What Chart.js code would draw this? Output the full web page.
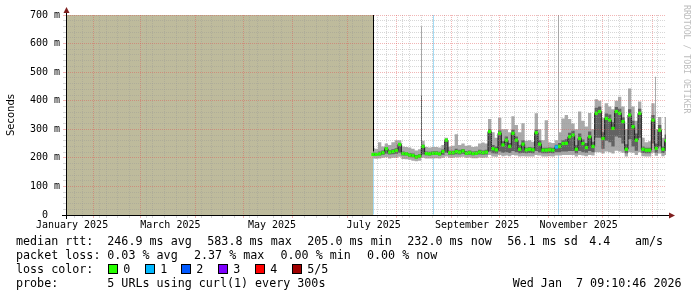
<!DOCTYPE html>
<html>
<head>
<meta charset="utf-8">
<script src="https://cdn.jsdelivr.net/npm/chart.js@4.4.1/dist/chart.umd.min.js"></script>
<style>
  html, body { margin: 0; padding: 0; background: #fff; }
  canvas { display: block; }
</style>
</head>
<body>
<canvas id="smokeGraph" width="697" height="297"></canvas>
<script>
// x values are days counted from 1 Jan 2025
const START_DAY = 11.38;   // 360 days back
const END_DAY = 371.38;    // Wed Jan 7 09:10:46 2026

const xTickLabels = ['January 2025', 'March 2025', 'May 2025', 'July 2025', 'September 2025', 'November 2025'];
const xLabelDays = [15, 74, 135, 196, 258, 319];
const monthStartDays = [31, 59, 90, 120, 151, 181, 212, 243, 273, 304, 334, 365];
const yTickLabels = ['0  ', '100 m', '200 m', '300 m', '400 m', '500 m', '600 m', '700 m'];

// no data before the probe was added
const noDataEnd = 195.58;

// one sample every 2 days starting here
const FIRST_DAY = 195.58;
const STEP = 2;

const median = [212, 212, 214, 218, 232, 220, 222, 226, 247, 215, 214, 210, 208, 203, 206, 240, 215, 214, 216, 216,
  214, 222, 262, 218, 218, 222, 220, 224, 216, 218, 215, 216, 220, 218, 220, 292, 232, 228, 286, 245,
  262, 240, 286, 262, 230, 248, 228, 230, 228, 288, 248, 227, 227, 228, 227, 238, 240, 250, 251, 274,
  280, 230, 268, 250, 236, 274, 240, 356, 362, 268, 338, 332, 303, 362, 356, 327, 230, 350, 309, 262,
  356, 230, 227, 227, 332, 233, 297, 230, 260];
const darkLow = [207, 207, 208, 211, 214, 212, 213, 214, 218, 208, 208, 204, 202, 198, 200, 212, 209, 208, 210, 210,
  208, 211, 218, 211, 211, 213, 212, 214, 210, 211, 209, 210, 212, 211, 212, 222, 216, 215, 222, 218,
  220, 217, 224, 220, 216, 217, 216, 217, 216, 224, 219, 216, 216, 217, 216, 220, 220, 222, 222, 224,
  224, 216, 224, 220, 218, 224, 220, 270, 270, 232, 260, 255, 240, 275, 270, 250, 216, 265, 240, 225,
  270, 217, 216, 216, 250, 218, 240, 217, 224];
const darkHigh = [219, 218, 222, 226, 238, 227, 230, 234, 252, 222, 220, 217, 215, 210, 213, 246, 222, 221, 223, 223,
  221, 229, 265, 225, 225, 232, 228, 231, 224, 226, 222, 223, 228, 226, 228, 300, 245, 240, 296, 258,
  275, 252, 298, 275, 244, 262, 236, 238, 236, 298, 262, 235, 235, 236, 235, 246, 252, 262, 265, 288,
  295, 244, 285, 264, 252, 292, 256, 375, 380, 290, 355, 352, 325, 378, 372, 342, 248, 370, 330, 285,
  372, 240, 235, 235, 350, 250, 315, 240, 282];
const smokeLow = [198, 197, 198, 200, 202, 198, 200, 200, 204, 196, 195, 193, 190, 188, 190, 200, 198, 198, 198, 199,
  198, 200, 205, 200, 200, 202, 202, 204, 200, 201, 199, 199, 201, 200, 201, 210, 205, 204, 210, 206,
  208, 206, 210, 208, 205, 206, 205, 205, 205, 210, 208, 205, 205, 206, 205, 208, 208, 210, 210, 210,
  210, 205, 210, 208, 206, 210, 208, 220, 220, 215, 222, 220, 215, 225, 222, 218, 205, 220, 218, 210,
  220, 206, 205, 205, 218, 207, 215, 206, 210];
const smokeHigh = [235, 232, 255, 240, 250, 245, 255, 262, 262, 240, 238, 236, 232, 226, 230, 260, 238, 236, 238, 238,
  236, 245, 270, 240, 242, 283, 245, 250, 242, 244, 238, 240, 250, 254, 250, 336, 290, 270, 340, 300,
  300, 290, 346, 315, 290, 321, 260, 262, 256, 356, 300, 262, 332, 255, 252, 262, 290, 338, 350, 336,
  320, 300, 362, 330, 310, 357, 300, 405, 400, 340, 391, 380, 370, 400, 414, 380, 300, 443, 380, 330,
  397, 270, 255, 258, 391, 300, 343, 270, 343];
// lost pings (of 5) for each median sample
const medianLoss = [0, 0, 0, 0, 0, 0, 0, 0, 0, 0, 0, 0, 0, 0, 0, 0, 0, 0, 0, 0,
  0, 0, 0, 0, 0, 0, 0, 0, 0, 0, 0, 0, 0, 0, 0, 0, 0, 0, 0, 0,
  0, 0, 0, 0, 0, 0, 0, 0, 0, 0, 0, 0, 0, 0, 0, 1, 0, 0, 0, 0,
  0, 0, 0, 0, 0, 0, 0, 0, 0, 0, 0, 0, 0, 0, 0, 0, 0, 0, 0, 0,
  0, 0, 0, 0, 0, 0, 0, 0, 0];

// single-column outliers of the smoke
const lightSpikeDays = [224.68, 306.88, 365.08];
const lightSpikeLow = [250, 255, 300];
const lightSpikeHigh = [661, 700, 484];
const darkSpikeDays = [195.88, 224.68];
const darkSpikeLow = [222, 242];
const darkSpikeHigh = [700, 417];

// columns with packet loss
const lossDays = [195.88, 231.88, 306.88];
const lossCount = [1, 1, 1];

const lossColors = ['#26ff00', '#00b8ff', '#0059ff', '#7e00ff', '#ff0000', '#a00000'];
const lossLabels = ['0', '1', '2', '3', '4', '5/5'];

const legendRows = [
  ['median rtt:', '246.9 ms avg', '583.8 ms max', '205.0 ms min', '232.0 ms now', '56.1 ms sd', '4.4', 'am/s'],
  ['packet loss:', '0.03 % avg', '2.37 % max', '0.00 % min', '0.00 % now'],
  ['loss color:'],
  ['probe:', '5 URLs using curl(1) every 300s']
];
const stampText = 'Wed Jan  7 09:10:46 2026';

const GRID_MINOR = 'rgba(150,150,150,0.38)';
const GRID_MAJOR = 'rgba(225,80,80,0.42)';
const MONO = '"DejaVu Sans Mono", monospace';

const dayOf = (i) => FIRST_DAY + i * STEP;
const series = (arr) => arr.map((v, i) => ({ x: dayOf(i), y: v }));
const spikes = (days, lo, hi) => days.map((d, i) => ({ x: d, y: [lo[i], hi[i]] }));

// weekly grid on Sundays, red grid on month starts, labels mid month
function buildTimeTicks(scale) {
  const ticks = [];
  for (let d = 4; d <= END_DAY; d += 7) {
    if (d >= START_DAY && !monthStartDays.includes(d)) ticks.push({ value: d, kind: 'minor' });
  }
  monthStartDays.forEach((d) => ticks.push({ value: d, kind: 'major' }));
  xLabelDays.forEach((d, i) => ticks.push({ value: d, kind: 'label', text: xTickLabels[i] }));
  ticks.sort((a, b) => a.value - b.value);
  scale.ticks = ticks;
}

const decorations = {
  id: 'decorations',
  afterDraw(chart) {
    const { ctx, chartArea } = chart;
    const left = chartArea.left, bottom = chartArea.bottom;
    ctx.save();

    // axes
    ctx.strokeStyle = '#000';
    ctx.lineWidth = 1;
    ctx.beginPath();
    ctx.moveTo(62, bottom + 0.5);
    ctx.lineTo(chartArea.right + 4, bottom + 0.5);
    ctx.moveTo(left + 0.5, bottom + 4);
    ctx.lineTo(left + 0.5, chartArea.top - 4);
    ctx.stroke();
    ctx.fillStyle = '#7f1f1f';
    ctx.beginPath();
    ctx.moveTo(chartArea.right + 3, bottom - 2.5);
    ctx.lineTo(chartArea.right + 9, bottom + 0.5);
    ctx.lineTo(chartArea.right + 3, bottom + 3.5);
    ctx.fill();
    ctx.beginPath();
    ctx.moveTo(left - 2.5, chartArea.top - 2);
    ctx.lineTo(left + 0.5, chartArea.top - 8);
    ctx.lineTo(left + 3.5, chartArea.top - 2);
    ctx.fill();

    // watermark
    ctx.save();
    ctx.translate(686, 5);
    ctx.rotate(Math.PI / 2);
    ctx.font = '8.2px ' + MONO;
    ctx.fillStyle = '#bdbdbd';
    ctx.textBaseline = 'middle';
    ctx.fillText('RRDTOOL / TOBI OETIKER', 0, 0);
    ctx.restore();

    // legend
    ctx.font = '11.7px ' + MONO;
    ctx.fillStyle = '#000';
    ctx.textBaseline = 'alphabetic';
    const rowY = [245, 259, 273, 287];
    const colX = [
      [16, 107.3, 207.3, 307.3, 407.3, 507.3, 589.3, 635],
      [16, 107.3, 194, 280.5, 367],
      [16],
      [16, 107.3]
    ];
    legendRows.forEach((row, r) => {
      row.forEach((txt, c) => ctx.fillText(txt, colX[r][c], rowY[r]));
    });
    lossColors.forEach((col, k) => {
      const bx = 109 + Math.round(k * 36.7);
      ctx.fillStyle = col;
      ctx.fillRect(bx, 265, 8, 8);
      ctx.strokeStyle = '#000';
      ctx.strokeRect(bx - 0.5, 264.5, 9, 9);
      ctx.fillStyle = '#000';
      ctx.fillText(lossLabels[k], bx + 14.3, rowY[2]);
    });
    ctx.fillText(stampText, 512.7, rowY[3]);
    ctx.restore();
  }
};

Chart.defaults.font.family = MONO;
Chart.defaults.color = '#000';

new Chart(document.getElementById('smokeGraph').getContext('2d'), {
  type: 'line',
  data: {
    datasets: [
      {
        label: 'median rtt',
        data: series(median),
        stepped: 'middle',
        borderColor: '#1a1a1a',
        borderWidth: 1,
        pointStyle: 'rect',
        pointRadius: 2.3,
        pointBorderWidth: 0,
        pointBackgroundColor: medianLoss.map((l) => lossColors[l]),
        order: 1
      },
      {
        label: 'smoke inner high',
        data: series(darkHigh),
        stepped: 'middle',
        borderWidth: 0,
        pointRadius: 0,
        backgroundColor: '#626262',
        fill: '+1',
        order: 3
      },
      {
        label: 'smoke inner low',
        data: series(darkLow),
        stepped: 'middle',
        borderWidth: 0,
        pointRadius: 0,
        fill: false,
        order: 3.1
      },
      {
        type: 'bar',
        label: 'dark outliers',
        data: spikes(darkSpikeDays, darkSpikeLow, darkSpikeHigh),
        backgroundColor: ['#000000', '#5c5c5c'],
        barThickness: 1,
        grouped: false,
        inflateAmount: 0,
        borderWidth: 0,
        order: 2
      },
      {
        label: 'smoke outer high',
        data: series(smokeHigh),
        stepped: 'middle',
        borderWidth: 0,
        pointRadius: 0,
        backgroundColor: '#aaaaaa',
        fill: '+1',
        order: 5
      },
      {
        label: 'smoke outer low',
        data: series(smokeLow),
        stepped: 'middle',
        borderWidth: 0,
        pointRadius: 0,
        fill: false,
        order: 5.1
      },
      {
        type: 'bar',
        label: 'light outliers',
        data: spikes(lightSpikeDays, lightSpikeLow, lightSpikeHigh),
        backgroundColor: '#aaaaaa',
        barThickness: 1,
        grouped: false,
        inflateAmount: 0,
        borderWidth: 0,
        order: 4
      },
      {
        label: 'no data',
        data: [{ x: START_DAY, y: 700 }, { x: noDataEnd, y: 700 }],
        borderWidth: 0,
        pointRadius: 0,
        backgroundColor: '#bebb9c',
        fill: 'origin',
        order: 8
      },
      {
        type: 'bar',
        label: 'loss',
        data: lossDays.map((d) => ({ x: d, y: [0, 700] })),
        backgroundColor: lossCount.map(() => '#a6dcf5'),
        barThickness: 1,
        grouped: false,
        inflateAmount: 0,
        borderWidth: 0,
        order: 9
      }
    ]
  },
  options: {
    responsive: false,
    animation: false,
    devicePixelRatio: 1,
    events: [],
    layout: { padding: { left: 0, top: 15, right: 31, bottom: 52 } },
    plugins: { legend: { display: false }, tooltip: { enabled: false } },
    scales: {
      x: {
        type: 'linear',
        min: START_DAY,
        max: END_DAY,
        offset: false,
        afterBuildTicks: buildTimeTicks,
        afterFit: (scale) => { scale.height = 30; },
        border: { display: false, dash: [1, 1] },
        grid: {
          z: 1,
          lineWidth: 1,
          tickLength: 3,
          tickBorderDash: [],
          color: (ctx) => ctx.tick && ctx.tick.kind === 'major' ? GRID_MAJOR
            : (ctx.tick && ctx.tick.kind === 'minor' ? GRID_MINOR : 'rgba(0,0,0,0)'),
          tickColor: (ctx) => ctx.tick && ctx.tick.kind === 'major' ? GRID_MAJOR
            : (ctx.tick && ctx.tick.kind === 'minor' ? GRID_MINOR : 'rgba(0,0,0,0)')
        },
        ticks: {
          autoSkip: false,
          maxRotation: 0,
          minRotation: 0,
          padding: 1,
          font: { size: 10 },
          color: '#000',
          callback: (value, index, ticks) => ticks[index].kind === 'label' ? ticks[index].text : ''
        }
      },
      y: {
        min: 0,
        max: 700,
        offset: false,
        afterFit: (scale) => { scale.width = 66; },
        border: { display: false, dash: [1, 1] },
        title: {
          display: true,
          text: 'Seconds',
          font: { family: '"DejaVu Sans", sans-serif', size: 10 },
          color: '#000',
          padding: { top: 5, bottom: 0 }
        },
        grid: {
          z: 1,
          lineWidth: 1,
          tickLength: 3,
          tickBorderDash: [],
          color: (ctx) => ctx.tick && ctx.tick.value % 100 === 0 ? GRID_MAJOR : GRID_MINOR,
          tickColor: (ctx) => ctx.tick && ctx.tick.value % 100 === 0 ? GRID_MAJOR : GRID_MINOR
        },
        ticks: {
          stepSize: 20,
          autoSkip: false,
          padding: 3,
          font: { size: 10 },
          color: '#000',
          callback: (value) => value % 100 === 0 ? yTickLabels[value / 100] : ''
        }
      }
    }
  },
  plugins: [decorations]
});
</script>
</body>
</html>
